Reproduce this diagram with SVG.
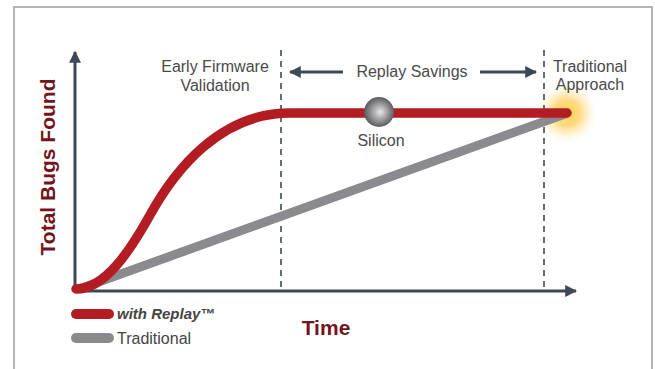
<svg xmlns="http://www.w3.org/2000/svg" width="655" height="369" viewBox="0 0 655 369">
<defs>
<style>
.lbl{font-family:"Liberation Sans",Arial,sans-serif;font-size:16px;fill:#4a4a4a;text-anchor:middle}
.title{font-family:"Liberation Sans",Arial,sans-serif;font-weight:bold;fill:#74151c}
.axis{stroke:#3d4a55;stroke-width:3;fill:none}
.dash{stroke:#3d4a55;stroke-width:1.6;stroke-dasharray:6 5;fill:none}
.span{stroke:#3d4a55;stroke-width:3;fill:none}
.red{stroke:#b21c22;stroke-width:9.5;fill:none;stroke-linecap:round}
.gray{stroke:#8b8b8f;stroke-width:9;fill:none;stroke-linecap:round}
</style>
<marker id="ah" viewBox="0 0 10 10" refX="9" refY="5" markerWidth="4" markerHeight="4" orient="auto-start-reverse" markerUnits="strokeWidth">
<path d="M0,0 L10,5 L0,10 z" fill="#3d4a55"/>
</marker>
<radialGradient id="glow" cx="0.5" cy="0.5" r="0.5">
<stop offset="0" stop-color="#ffd24a" stop-opacity="1"/>
<stop offset="0.45" stop-color="#ffcc55" stop-opacity="0.7"/>
<stop offset="1" stop-color="#fff0c0" stop-opacity="0"/>
</radialGradient>
<radialGradient id="ball" cx="0.5" cy="0.5" r="0.55" fx="0.55" fy="0.5">
<stop offset="0" stop-color="#e8e8ea"/>
<stop offset="0.5" stop-color="#9a9a9e"/>
<stop offset="1" stop-color="#4a4a50"/>
</radialGradient>
</defs>
<rect x="0" y="0" width="655" height="369" fill="#ffffff"/>
<path d="M14,369 L14,7 L652,7 L652,369" fill="none" stroke="#b4b4b4" stroke-width="2"/>

<g id="glow-point">
<circle cx="567" cy="113" r="30" fill="url(#glow)"/>
</g>

<g id="connectors">
<line class="axis" x1="75" y1="291" x2="75" y2="52" marker-end="url(#ah)"/>
<line class="axis" x1="75" y1="291" x2="576" y2="291" marker-end="url(#ah)"/>
<line class="dash" x1="281" y1="50" x2="281" y2="290"/>
<line class="dash" x1="544" y1="50" x2="544" y2="290"/>
<line class="span" x1="290" y1="72" x2="343" y2="72" marker-start="url(#ah)"/>
<line class="span" x1="480" y1="72" x2="536" y2="72" marker-end="url(#ah)"/>
<line class="gray" x1="82" y1="288" x2="565" y2="114"/>
<path class="red" d="M76,289 C105,289 130,251 150,215 C175,170 220,113 290,113 L567,113"/>
</g>

<g id="silicon">
<circle cx="379" cy="112" r="15" fill="url(#ball)"/>
<text class="lbl" x="381" y="146">Silicon</text>
</g>

<g id="early-firmware">
<text class="lbl" x="215" y="72">Early Firmware</text>
<text class="lbl" x="215" y="91">Validation</text>
</g>

<g id="replay-savings">
<text class="lbl" x="412" y="77">Replay Savings</text>
</g>

<g id="traditional-approach">
<text class="lbl" x="590" y="72">Traditional</text>
<text class="lbl" x="590" y="90">Approach</text>
</g>

<g id="y-label">
<text class="title" font-size="21" text-anchor="middle" transform="translate(55,167) rotate(-90)">Total Bugs Found</text>
</g>

<g id="x-label">
<text class="title" font-size="21" text-anchor="middle" x="326" y="335">Time</text>
</g>

<g id="legend">
<line x1="76" y1="314" x2="109" y2="314" stroke="#b21c22" stroke-width="10" stroke-linecap="round"/>
<text x="117" y="319" font-family="Liberation Sans,Arial,sans-serif" font-size="15" font-weight="bold" font-style="italic" fill="#444">with Replay™</text>
<line x1="76" y1="338" x2="109" y2="338" stroke="#8b8b8f" stroke-width="10" stroke-linecap="round"/>
<text x="117" y="344" font-family="Liberation Sans,Arial,sans-serif" font-size="16" fill="#444">Traditional</text>
</g>
</svg>
